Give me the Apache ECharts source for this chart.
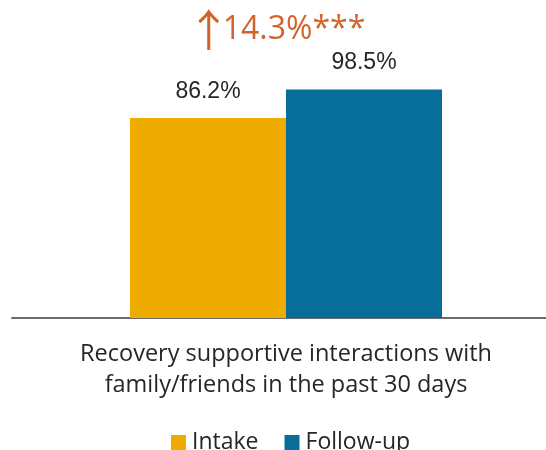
<!DOCTYPE html>
<html>
<head>
<meta charset="utf-8">
<script src="https://cdn.jsdelivr.net/npm/echarts@6/dist/echarts.min.js"></script>
<style>html,body{margin:0;padding:0;background:#fff}#c{width:546px;height:450px}</style>
</head>
<body>
<div id="c"></div>
<script>
const categories = ['Recovery supportive interactions with\nfamily/friends in the past 30 days'];
const seriesNames = ['Intake', 'Follow-up'];
const intakeValues = [86.2];
const followupValues = [98.5];
const changeArrow = '\u2191';
const changeLabel = '14.3%***';
const colors = ['#F0AB00', '#066E98'];

const chart = echarts.init(document.getElementById('c'));
const font = 'Liberation Sans, Arial, sans-serif';
const font2 = 'Open Sans, Liberation Sans, sans-serif';
chart.setOption({
  animation: false,
  textStyle: { fontFamily: font },
  title: {
    text: '{a|' + changeArrow + '}{b|' + changeLabel + '}',
    left: 271, top: 4,
    textAlign: 'center',
    textStyle: {
      fontWeight: 'normal',
      rich: {
        a: { color: '#D2632A', fontSize: 44, width: 36, align: 'left', fontWeight: 'normal', fontFamily: 'Noto Sans CJK SC', lineHeight: 42 },
        b: { color: '#D2632A', fontSize: 32, fontWeight: 'normal', fontFamily: font2, lineHeight: 42 }
      }
    }
  },
  legend: {
    data: seriesNames,
    left: 171, top: 431, padding: 0,
    itemWidth: 15, itemHeight: 15, itemGap: 26,
    icon: 'rect',
    textStyle: { fontSize: 23, color: '#262626', fontFamily: font2, padding: [3, 0, 0, 1] }
  },
  grid: [
    { left: 26, right: 0, top: 86, bottom: 132, containLabel: false },
    { left: 12, right: 0, top: 86, bottom: 132, containLabel: false }
  ],
  xAxis: [
    {
      type: 'category', gridIndex: 0,
      data: categories,
      axisLine: { show: false },
      axisTick: { show: false },
      axisLabel: { fontSize: 23.5, color: '#262626', lineHeight: 31, margin: 21, fontFamily: font2 }
    },
    {
      type: 'category', gridIndex: 1, data: [''],
      axisLine: { lineStyle: { color: '#3a3a3a', width: 1.7 } },
      axisTick: { show: false }, axisLabel: { show: false }
    }
  ],
  yAxis: [
    { type: 'value', gridIndex: 0, min: 0, max: 100, show: false, splitLine: { show: false } },
    { type: 'value', gridIndex: 1, min: 0, max: 100, show: false, splitLine: { show: false } }
  ],
  series: [
    {
      name: seriesNames[0], type: 'bar', data: intakeValues,
      barWidth: 156, barGap: '0%', z: 1,
      itemStyle: { color: colors[0] },
      label: { show: true, position: 'top', distance: 15, formatter: p => p.value.toFixed(1) + '%', fontSize: 23, color: '#262626', fontFamily: font }
    },
    {
      name: seriesNames[1], type: 'bar', data: followupValues,
      barWidth: 156, barGap: '0%', z: 1,
      itemStyle: { color: colors[1] },
      label: { show: true, position: 'top', distance: 15, formatter: p => p.value.toFixed(1) + '%', fontSize: 23, color: '#262626', fontFamily: font }
    }
  ]
});
</script>
</body>
</html>
